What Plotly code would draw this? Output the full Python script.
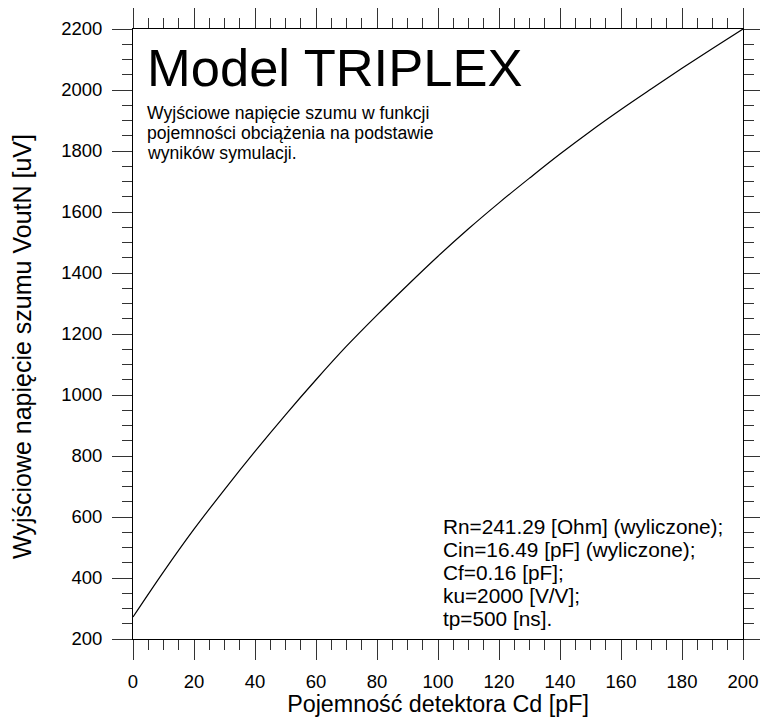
import plotly.graph_objects as go

# Data
cd_pf = [0, 10, 20, 30, 40, 50, 60, 70, 80, 90, 100,
         110, 120, 130, 140, 150, 160, 170, 180, 190, 200]
vout_uv = [272, 420, 560, 690, 815, 935, 1050, 1160, 1262, 1360, 1455,
           1545, 1630, 1711, 1790, 1865, 1936, 2004, 2071, 2136, 2200]

title_text = "Model TRIPLEX"
subtitle_lines = ["Wyjściowe napięcie szumu w funkcji",
                  "pojemności obciążenia na podstawie",
                  "wyników symulacji."]
param_lines = ["Rn=241.29 [Ohm] (wyliczone);",
               "Cin=16.49 [pF] (wyliczone);",
               "Cf=0.16 [pF];",
               "ku=2000 [V/V];",
               "tp=500 [ns]."]
x_title = "Pojemność detektora Cd [pF]"
y_title = "Wyjściowe napięcie szumu VoutN [uV]"

FONT = "Liberation Sans, Arial, sans-serif"

fig = go.Figure()
fig.add_trace(go.Scatter(x=cd_pf, y=vout_uv, mode="lines",
                         line=dict(color="black", width=1.2, shape="spline"),
                         showlegend=False, hoverinfo="skip"))

W, H = 760, 717
L, R, T, B = 133, 17, 29, 78
plot_h = H - T - B


def ypaper(py):
    return (H - B - py) / plot_h


def xpaper(px):
    return (px - L) / (W - L - R)


axis_common = dict(
    showgrid=False, zeroline=False, showline=True, linecolor="black", linewidth=1,
    mirror="allticks", ticks="outside", ticklen=20, tickwidth=1, tickcolor="#333",
    tickfont=dict(family=FONT, size=18.5, color="black"), automargin=False,
)

fig.update_xaxes(range=[0, 200], tick0=0, dtick=20,
                 minor=dict(dtick=5, ticks="outside", ticklen=10, tickwidth=1, tickcolor="#333"),
                 title=dict(text=x_title, font=dict(family=FONT, size=23.3, color="black"), standoff=2),
                 ticklabelstandoff=6,
                 **axis_common)
fig.update_yaxes(range=[200, 2200], tick0=200, dtick=200,
                 minor=dict(dtick=50, ticks="outside", ticklen=10, tickwidth=1, tickcolor="#333"),
                 ticklabelstandoff=6,
                 **axis_common)

annotations = [dict(text=title_text, x=xpaper(145), y=ypaper(68), xref="paper", yref="paper",
                    xanchor="left", yanchor="middle", showarrow=False,
                    font=dict(family=FONT, size=52.5, color="black"))]
for i, line in enumerate(subtitle_lines):
    annotations.append(dict(text=line, x=xpaper(145), y=ypaper(113 + 20 * i),
                            xref="paper", yref="paper", xanchor="left", yanchor="middle",
                            showarrow=False, font=dict(family=FONT, size=17.6, color="black")))
for i, line in enumerate(param_lines):
    annotations.append(dict(text=line, x=xpaper(441), y=ypaper(526 + 23 * i),
                            xref="paper", yref="paper", xanchor="left", yanchor="middle",
                            showarrow=False, font=dict(family=FONT, size=20.8, color="black")))
# Y-axis title (placed as rotated text, slightly below the plot centre as in the reference)
annotations.append(dict(text=y_title, x=xpaper(22), y=ypaper(347), xref="paper", yref="paper",
                        xanchor="center", yanchor="middle", textangle=-90, showarrow=False,
                        font=dict(family=FONT, size=25, color="black")))

fig.update_layout(width=W, height=H, margin=dict(l=L, r=R, t=T, b=B, pad=0, autoexpand=False),
                  paper_bgcolor="white", plot_bgcolor="white",
                  font=dict(family=FONT, color="black"),
                  annotations=annotations)

fig.write_html("out.html")
